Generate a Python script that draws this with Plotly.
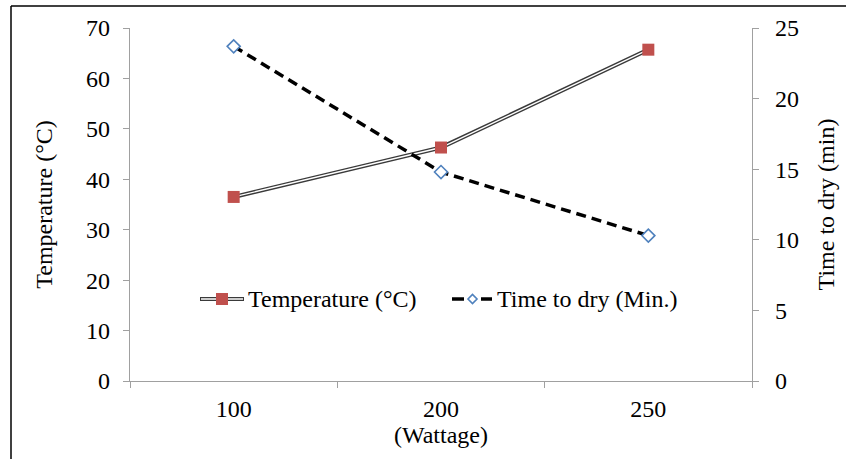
import plotly.graph_objects as go

wattage = ["100", "200", "250"]
temperature = [36.5, 46.3, 65.7]
time_to_dry = [23.7, 14.8, 10.3]

W, H = 846, 459
L, R, T, B = 130, 752, 28, 381

def px(x):
    return (x - L) / (R - L)

def py(y):
    return (B - y) / (B - T)

FONT = "Liberation Serif"
FS = 24
RED = "#C0504D"
BLUE = "#4F81BD"

fig = go.Figure()

# Temperature: double line (dark outer, white inner)
fig.add_trace(go.Scatter(x=wattage, y=temperature, mode="lines",
                         line=dict(color="#3a3a3a", width=4.2), showlegend=False,
                         hoverinfo="skip"))
fig.add_trace(go.Scatter(x=wattage, y=temperature, mode="lines+markers",
                         line=dict(color="white", width=1.4),
                         marker=dict(symbol="square", size=12, color=RED),
                         name="Temperature (°C)", showlegend=False))
# Time to dry: dashed on secondary axis
fig.add_trace(go.Scatter(x=wattage, y=time_to_dry, mode="lines+markers", yaxis="y2",
                         line=dict(color="black", width=3.5, dash="10px,6px"),
                         marker=dict(symbol="diamond", size=10, color="white",
                                     line=dict(width=1.6, color=BLUE)),
                         name="Time to dry (Min.)", showlegend=False))

axis_common = dict(showgrid=False, zeroline=False, showline=True, linecolor="#a0a0a0",
                   linewidth=1.3, ticks="outside", ticklen=6, tickcolor="#a0a0a0",
                   tickwidth=1.3, tickfont=dict(family=FONT, size=FS, color="black"))

fig.update_layout(
    width=W, height=H,
    margin=dict(l=L, r=W - R, t=T, b=H - B),
    paper_bgcolor="white", plot_bgcolor="white",
    showlegend=False,
    xaxis=dict(axis_common, type="category", tickson="boundaries", range=[-0.5, 2.5],
               ticklabelstandoff=6,
               title=dict(text="(Wattage)", font=dict(family=FONT, size=FS, color="black"),
                          standoff=0)),
    yaxis=dict(axis_common, range=[0, 70], dtick=10, ticklabelstandoff=8,
               title=dict(text="Temperature (°C)", font=dict(family=FONT, size=FS, color="black"),
                          standoff=26)),
    yaxis2=dict(axis_common, range=[0, 25], dtick=5, overlaying="y", side="right",
                ticklabelstandoff=11,
                title=dict(text="Time to dry (min)", font=dict(family=FONT, size=FS, color="black"),
                           standoff=19)),
)

shapes = []
# outer frame
shapes.append(dict(type="line", xref="paper", yref="paper", x0=px(11), x1=px(900), y0=py(6), y1=py(6),
                   line=dict(color="black", width=1.5)))
shapes.append(dict(type="line", xref="paper", yref="paper", x0=px(11), x1=px(11), y0=py(6), y1=py(500),
                   line=dict(color="black", width=1.5)))

# legend: temperature double line + square
ly = 299
shapes.append(dict(type="line", xref="paper", yref="paper", x0=px(200), x1=px(244), y0=py(ly), y1=py(ly),
                   line=dict(color="#3a3a3a", width=4.2)))
shapes.append(dict(type="line", xref="paper", yref="paper", x0=px(201), x1=px(243), y0=py(ly), y1=py(ly),
                   line=dict(color="white", width=1.4)))
shapes.append(dict(type="rect", xref="paper", yref="paper", x0=px(216), x1=px(228), y0=py(ly + 6), y1=py(ly - 6),
                   fillcolor=RED, line=dict(width=0)))
# legend: dashed + diamond
shapes.append(dict(type="line", xref="paper", yref="paper", x0=px(452), x1=px(464), y0=py(ly), y1=py(ly),
                   line=dict(color="black", width=3.5)))
shapes.append(dict(type="line", xref="paper", yref="paper", x0=px(481), x1=px(492), y0=py(ly), y1=py(ly),
                   line=dict(color="black", width=3.5)))
dx, dy = 4.5, 4.5
cx = 472.5
shapes.append(dict(type="path", xref="paper", yref="paper",
                   path=f"M {px(cx-dx)} {py(ly)} L {px(cx)} {py(ly-dy)} L {px(cx+dx)} {py(ly)} L {px(cx)} {py(ly+dy)} Z",
                   fillcolor="white", line=dict(color=BLUE, width=1.6)))
fig.update_layout(shapes=shapes)

fig.add_annotation(x=px(246), y=py(ly), xref="paper", yref="paper", text="Temperature (°C)",
                   showarrow=False, xanchor="left", yanchor="middle",
                   font=dict(family=FONT, size=FS, color="black"))
fig.add_annotation(x=px(495), y=py(ly), xref="paper", yref="paper", text="Time to dry (Min.)",
                   showarrow=False, xanchor="left", yanchor="middle",
                   font=dict(family=FONT, size=FS, color="black"))

fig.write_html("out.html")
